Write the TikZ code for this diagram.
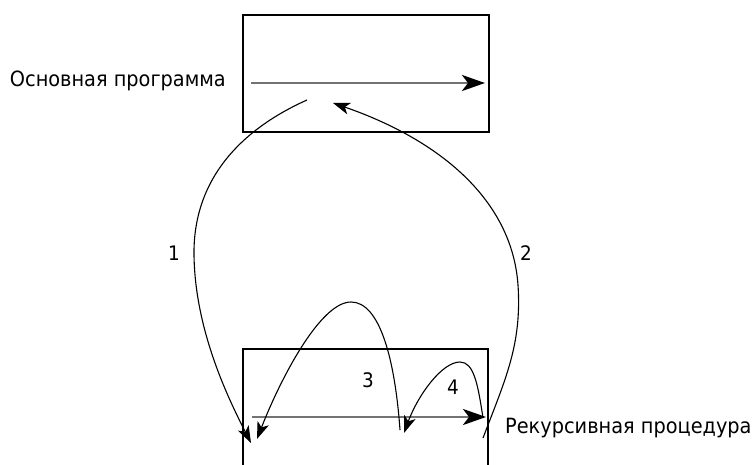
\documentclass[tikz,border=0pt]{standalone}
\usepackage{fontspec}
\setmainfont{DejaVu Sans}[FakeStretch=0.92]
\usetikzlibrary{arrows.meta}
\begin{document}
\begin{tikzpicture}[x=1pt,y=-1pt,
  box/.style={draw=black, line width=1.4pt, inner sep=0pt},
  flow/.style={draw=black!55, line width=2.8pt, -{Stealth[length=23pt,width=16pt,inset=6pt,color=black]}},
  jump/.style={draw=black, line width=1.1pt, -{Stealth[length=17pt,width=12pt,inset=4.5pt]}},
  lbl/.style={font=\fontsize{21}{24}\selectfont, inner sep=0pt},
  num/.style={font=\fontsize{20}{24}\selectfont, inner sep=0pt}]
\useasboundingbox (0,0) rectangle (752,465);
\clip (0,0) rectangle (752,465);
% boxes
\node[box, minimum width=246pt, minimum height=117pt] (mainbox) at (366,73.5) {};
\node[box, minimum width=245pt, minimum height=141pt] (recbox) at (365.5,419.5) {};
% inner flow arrows
\coordinate (ma) at (251,83);
\coordinate (mb) at (485,83);
\coordinate (ra) at (252,417);
\coordinate (rb) at (486,417);
\draw[flow] (ma) -- (mb);
\draw[flow] (ra) -- (rb);
% texts
\node[lbl, anchor=east] (maintext) at (226,81) {Основная программа};
\node[lbl, anchor=west] (rectext) at (505,428) {Рекурсивная процедура};
% curve end points
\coordinate (s1) at (307,100);
\coordinate (m1) at (194,255);
\coordinate (e1) at (251,443);
\coordinate (s2) at (483,438);
\coordinate (m2) at (518,285);
\coordinate (e2) at (333,103);
\coordinate (s3) at (400,430);
\coordinate (m3) at (351,302);
\coordinate (e3) at (257,439);
\coordinate (s4) at (483,418);
\coordinate (m4) at (460,362);
\coordinate (e4) at (404,433);
% curves
\draw[jump] (s1) .. controls (240,130) and (193,180) .. (m1)
            .. controls (195,330) and (228,398) .. (e1);
\draw[jump] (s2) .. controls (505,380) and (522,345) .. (m2)
            .. controls (512,200) and (440,140) .. (e2);
\draw[jump] (s3) .. controls (395,360) and (380,302) .. (m3)
            .. controls (320,302) and (280,380) .. (e3);
\draw[jump] (s4) .. controls (478,385) and (474,362) .. (m4)
            .. controls (442,362) and (418,395) .. (e4);
% labels
\node[num] (n1) at (174,253) {1};
\node[num] (n2) at (526,253) {2};
\node[num] (n3) at (368,380) {3};
\node[num] (n4) at (453,387) {4};
\end{tikzpicture}
\end{document}
